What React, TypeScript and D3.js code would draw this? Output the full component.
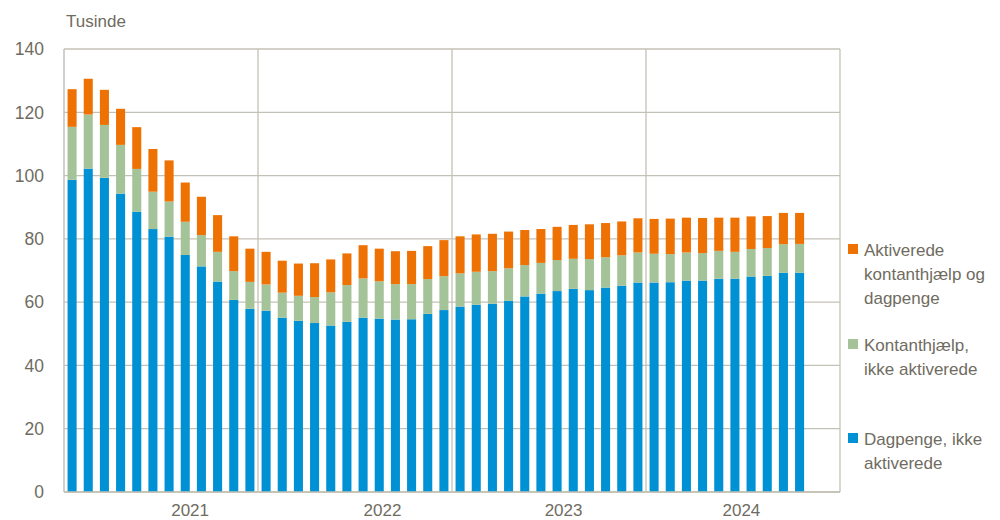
import React from "react";
import * as d3 from "d3";

// Monthly categories (Jan 2021 – Dec 2024); data runs through Oct 2024
const months: string[] = d3
  .timeMonths(new Date(2021, 0, 1), new Date(2025, 0, 1))
  .map((d) => d3.timeFormat("%Y-%m")(d));

// Values in thousands
const dagpenge: number[] = [
  98.7, 102.2, 99.3, 94.3, 88.6, 83.1, 80.7, 74.9, 71.3, 66.5, 60.7, 57.9,
  57.3, 55.1, 54.1, 53.4, 52.6, 53.8, 55.1, 54.8, 54.5, 54.6, 56.3, 57.5,
  58.6, 59.2, 59.5, 60.4, 61.8, 62.7, 63.5, 64.2, 63.8, 64.6, 65.2, 66.2,
  66.2, 66.3, 66.8, 66.8, 67.4, 67.4, 68.1, 68.3, 69.3, 69.3,
];
const kontanthjaelp: number[] = [
  16.7, 17.1, 16.7, 15.4, 13.5, 11.8, 11.1, 10.5, 9.9, 9.4, 9.1, 8.5,
  8.3, 7.9, 7.9, 8.2, 10.5, 11.6, 12.4, 11.8, 11.2, 11.1, 11.0, 10.7,
  10.5, 10.4, 10.3, 10.3, 9.9, 9.7, 9.8, 9.5, 9.8, 9.6, 9.6, 9.5,
  9.1, 8.9, 8.9, 8.7, 8.8, 8.5, 8.7, 8.8, 9.0, 9.1,
];
const aktiverede: number[] = [
  11.9, 11.3, 11.1, 11.4, 13.2, 13.5, 13.0, 12.4, 12.1, 11.6, 11.0, 10.5,
  10.3, 10.1, 10.2, 10.7, 10.4, 10.0, 10.5, 10.3, 10.4, 10.5, 10.4, 11.4,
  11.7, 11.8, 11.8, 11.6, 11.1, 10.7, 10.5, 10.7, 11.0, 10.8, 10.7, 10.8,
  11.0, 11.2, 11.0, 11.1, 10.5, 10.8, 10.3, 10.1, 9.9, 9.8,
];

const yTicks: number[] = [0, 20, 40, 60, 80, 100, 120, 140];
const yearLabels: string[] = ["2021", "2022", "2023", "2024"];
// label anchor, as fractional month index on the band scale
const yearLabelPos: number[] = [7.8, 19.7, 30.9, 41.9];

const seriesKeys = ["dagpenge", "kontant", "aktiverede"] as const;
const colors: Record<string, string> = {
  dagpenge: "#0091D5",
  kontant: "#A5C398",
  aktiverede: "#EE7203",
};
const legendItems = [
  { key: "aktiverede", lines: ["Aktiverede", "kontanthjælp og", "dagpenge"] },
  { key: "kontant", lines: ["Kontanthjælp,", "ikke aktiverede"] },
  { key: "dagpenge", lines: ["Dagpenge, ikke", "aktiverede"] },
];

const W = 1000;
const H = 520;
const left = 64;
const right = 840;
const top = 49;
const bottom = 492;
const textColor = "#6F6C5F";
const gridColor = "#C3C1B6";
const font = "'Liberation Sans', Arial, sans-serif";

export default function App() {
  const x = d3
    .scaleBand<string>()
    .domain(months)
    .range([left, right])
    .paddingInner(0.44)
    .paddingOuter(0.22);
  const y = d3.scaleLinear().domain([0, 140]).range([bottom, top]);
  const step = x.step();
  const xPos = (i: number) => left + step * (i + 0.5);

  const rows = dagpenge.map((d, i) => ({
    month: months[i],
    dagpenge: d,
    kontant: kontanthjaelp[i],
    aktiverede: aktiverede[i],
  }));
  const stacked = d3.stack<any>().keys(seriesKeys as any)(rows);

  const legendBlocks = [
    { item: legendItems[0], y0: 256 },
    { item: legendItems[1], y0: 351 },
    { item: legendItems[2], y0: 445 },
  ];

  return (
    <svg
      width={W}
      height={H}
      style={{ position: "absolute", left: 0, top: 0, background: "#fff" }}
      fontFamily={font}
    >
      {/* horizontal gridlines */}
      {yTicks.map((t) => (
        <line
          key={"g" + t}
          x1={left}
          x2={right}
          y1={y(t)}
          y2={y(t)}
          stroke={gridColor}
          strokeWidth={1.3}
        />
      ))}
      {/* vertical year separators */}
      {[12, 24, 36].map((m) => (
        <line
          key={"v" + m}
          x1={left + step * m}
          x2={left + step * m}
          y1={top}
          y2={bottom}
          stroke={gridColor}
          strokeWidth={1.3}
        />
      ))}
      {/* frame */}
      <line x1={left} x2={left} y1={top} y2={bottom} stroke={gridColor} strokeWidth={1.5} />
      <line x1={right} x2={right} y1={top} y2={bottom} stroke={gridColor} strokeWidth={1.3} />

      {/* bars */}
      {stacked.map((s) => (
        <g key={s.key} fill={colors[s.key]}>
          {s.map((d, i) => (
            <rect
              key={i}
              x={x(months[i])}
              width={x.bandwidth()}
              y={y(d[1])}
              height={y(d[0]) - y(d[1])}
            />
          ))}
        </g>
      ))}
      <line x1={left} x2={right} y1={bottom} y2={bottom} stroke={gridColor} strokeWidth={1.5} />

      {/* y tick labels */}
      {yTicks.map((t) => (
        <text
          key={"t" + t}
          x={44}
          y={y(t)}
          dy="0.36em"
          textAnchor="end"
          fontSize={17.5}
          fill={textColor}
        >
          {t}
        </text>
      ))}
      <text x={66} y={27} fontSize={17} fill={textColor}>
        Tusinde
      </text>

      {/* year labels */}
      {yearLabels.map((l, i) => (
        <text
          key={l}
          x={xPos(yearLabelPos[i]) - step / 2}
          y={516}
          textAnchor="middle"
          fontSize={17}
          fill={textColor}
        >
          {l}
        </text>
      ))}

      {/* legend */}
      {legendBlocks.map(({ item, y0 }) => (
        <g key={item.key}>
          <rect x={848} y={y0 - 12} width={10} height={10} fill={colors[item.key]} />
          {item.lines.map((ln, j) => (
            <text key={j} x={864} y={y0 + j * 24} fontSize={17} fill={textColor}>
              {ln}
            </text>
          ))}
        </g>
      ))}
    </svg>
  );
}
